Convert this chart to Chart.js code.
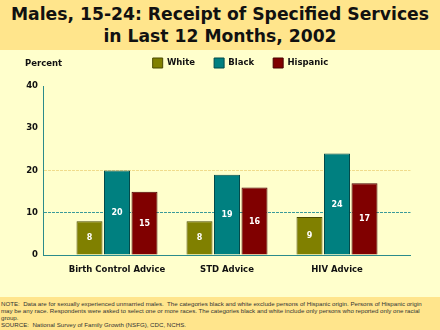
<!DOCTYPE html>
<html>
<head>
<meta charset="utf-8">
<script src="https://cdn.jsdelivr.net/npm/chart.js@4"></script>
<style>
  html, body { margin: 0; padding: 0; width: 440px; height: 330px; overflow: hidden; background: #FFFFCC; }
  #title { position: absolute; left: 0; top: 0; width: 440px; height: 50px; background: #FFE58C;
           font-family: "DejaVu Sans", sans-serif; font-weight: bold; font-size: 17.2px; line-height: 22px;
           color: #111; text-align: center; padding-top: 3px; box-sizing: border-box; }
  #wrap { position: absolute; left: 0; top: 50px; width: 440px; height: 247px; background: #FFFFCC; }
  #percent { position: absolute; left: 25px; top: 57px; font-family: "DejaVu Sans", sans-serif; font-weight: bold;
             font-size: 8.5px; line-height: 12px; color: #111; }
  #note { position: absolute; left: 0; top: 297px; width: 440px; height: 33px; background: #FFE58C;
          font-family: "Liberation Sans", sans-serif; font-size: 6.15px; line-height: 7px; color: #333;
          padding: 3px 0 0 1px; box-sizing: border-box; white-space: pre; }
</style>
</head>
<body>
<div id="title">Males, 15-24: Receipt of Specified Services<br>in Last 12 Months, 2002</div>
<div id="wrap"><canvas id="c" width="440" height="247"></canvas></div>
<div id="percent">Percent</div>
<div id="note">NOTE:  Data are for sexually experienced unmarried males.  The categories black and white exclude persons of Hispanic origin. Persons of Hispanic origin
may be any race. Respondents were asked to select one or more races. The categories black and white include only persons who reported only one racial
group.
SOURCE:  National Survey of Family Growth (NSFG), CDC, NCHS.</div>
<script>
const categories = ["Birth Control Advice", "STD Advice", "HIV Advice"];
const seriesNames = ["White", "Black", "Hispanic"];
const whiteValues = [8, 8, 9];
const blackValues = [20, 19, 24];
const hispanicValues = [15, 16, 17];
const yTicks = [0, 10, 20, 30, 40];

const colors = ["#808000", "#008080", "#800000"];
const borders = ["#4a4a00", "#004a4a", "#4a0000"];
const allValues = [whiteValues, blackValues, hispanicValues];

const FONT = "'DejaVu Sans', sans-serif";

const legendShift = {
  id: 'legendShift',
  afterUpdate(chart) {
    const lg = chart.legend;
    if (!lg) return;
    const dx = 240.5 - (lg.left + lg.right) / 2;
    const dy = -11 - lg.top;
    lg.left += dx; lg.right += dx; lg.top += dy; lg.bottom += dy;
  }
};

const valueLabels = {
  id: 'valueLabels',
  afterDatasetsDraw(chart) {
    const ctx = chart.ctx;
    ctx.save();
    ctx.font = "bold 8px " + FONT;
    ctx.fillStyle = "#ffffff";
    ctx.textAlign = "center";
    ctx.textBaseline = "middle";
    chart.data.datasets.forEach((ds, i) => {
      const meta = chart.getDatasetMeta(i);
      meta.data.forEach((el, j) => {
        const v = ds.data[j].y;
        ctx.fillText(String(v), el.x, (el.y + el.base) / 2 + 0.5);
      });
    });
    ctx.restore();
  }
};

new Chart(document.getElementById('c'), {
  type: 'bar',
  data: {
    datasets: seriesNames.map((name, i) => ({
      label: name,
      data: allValues[i].map((v, j) => ({ x: j + 1, y: v })),
      backgroundColor: colors[i],
      borderColor: borders[i],
      borderWidth: 1,
      categoryPercentage: 0.75,
      barPercentage: 0.945
    }))
  },
  options: {
    responsive: false,
    animation: false,
    devicePixelRatio: 1,
    layout: { padding: { left: 0, right: 29.5, top: -3, bottom: 0 } },
    plugins: {
      legend: {
        position: 'top',
        align: 'center',
        labels: {
          boxWidth: 10, boxHeight: 10, padding: 19,
          color: '#111',
          font: { family: FONT, size: 8.5, weight: 'bold' }
        }
      },
      title: { display: false },
      tooltip: { enabled: false }
    },
    scales: {
      x: {
        type: 'linear',
        offset: false,
        min: 1 - 74 / 110,
        max: 3 + 73.5 / 110,
        afterBuildTicks(scale) { scale.ticks = categories.map((c, i) => ({ value: i + 1 })); },
        afterFit(scale) { scale.height = 42; },
        ticks: {
          color: '#111',
          padding: 10,
          maxRotation: 0,
          autoSkip: false,
          font: { family: FONT, size: 8.5, weight: 'bold' },
          callback: (v) => categories[Math.round(v) - 1] || ''
        },
        grid: { display: false, drawTicks: false, offset: false },
        border: { display: true, color: '#2b8b8b', width: 1, dash: [3, 1] }
      },
      y: {
        min: 0, max: 40,
        afterBuildTicks(scale) { scale.ticks = yTicks.map(v => ({ value: v })); },
        afterFit(scale) { scale.width = 43; },
        ticks: {
          color: '#111',
          padding: 5,
          font: { family: FONT, size: 8.5, weight: 'bold' }
        },
        grid: {
          drawTicks: false,
          color: (ctx) => ctx.tick && ctx.tick.value === 10 ? '#3a9a9a' : (ctx.tick && ctx.tick.value === 20 ? '#f0dc8c' : 'rgba(0,0,0,0)'),
          borderDash: [1, 2],
          lineWidth: 1
        },
        border: { display: true, color: '#2b8b8b', width: 1, dash: [3, 1] }
      }
    }
  },
  plugins: [legendShift, valueLabels]
});
</script>
</body>
</html>
